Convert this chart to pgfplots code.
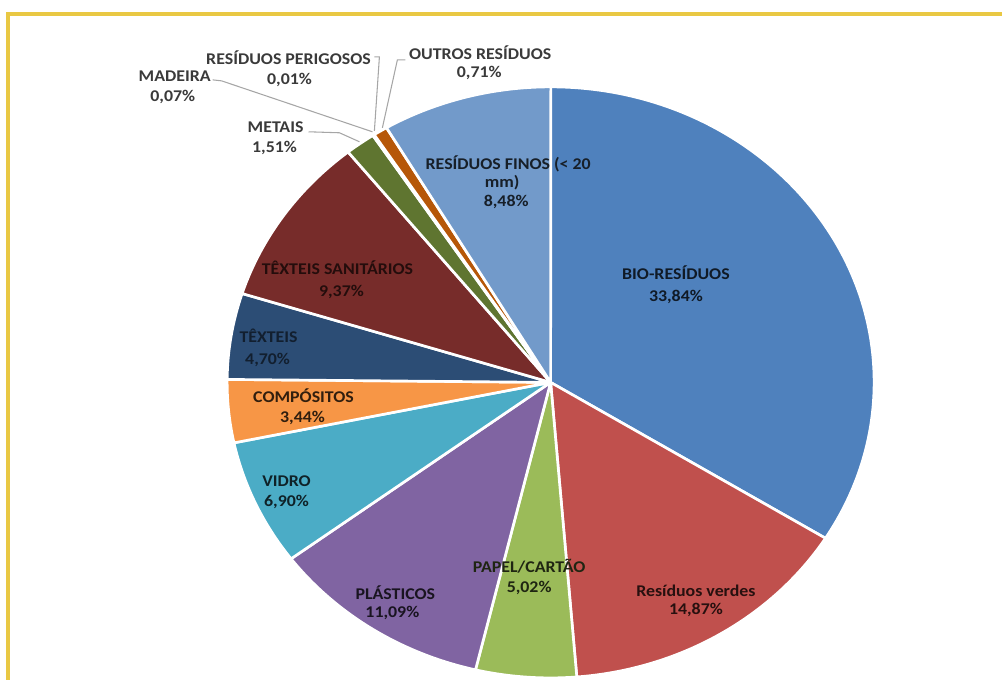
\documentclass[border=0pt]{standalone}
\usepackage{pgfplots}
\pgfplotsset{compat=1.18}
\usepackage{fontspec}
\setmainfont{Carlito}[FakeStretch=1.09]
\definecolor{cBio}{HTML}{4F81BD}
\definecolor{cVer}{HTML}{C0504D}
\definecolor{cPap}{HTML}{9BBB59}
\definecolor{cPla}{HTML}{8064A2}
\definecolor{cVid}{HTML}{4BACC6}
\definecolor{cCom}{HTML}{F79646}
\definecolor{cTex}{HTML}{2C4D75}
\definecolor{cTxs}{HTML}{772C2A}
\definecolor{cMet}{HTML}{5F7530}
\definecolor{cMad}{HTML}{4D3B62}
\definecolor{cPer}{HTML}{276A7C}
\definecolor{cOut}{HTML}{B65708}
\definecolor{cFin}{HTML}{729ACA}
\definecolor{frame}{HTML}{E9C843}
\definecolor{lead}{HTML}{A6A6A6}
\definecolor{outtxt}{HTML}{3A3A3A}
\begin{document}
\begin{tikzpicture}
\begin{axis}[x=0.75pt, y=0.75pt, xmin=0, xmax=1004, ymin=0, ymax=681,
  hide axis, clip=false]
\path (axis cs:0,0) rectangle (axis cs:1004,681);
% frame
\draw[frame, line width=2.4pt] (axis cs:8,0) -- (axis cs:8,667) -- (axis cs:1004,667);
% pie: centre, radii (x in axis units; 1 unit = 0.75pt)
\def\cx{551.5}\def\cy{298}\def\rx{324}\def\ry{296}
\gdef\cum{0}
\newcommand\slice[2]{%
  \pgfmathsetmacro\a{90-3.6*\cum}%
  \pgfmathsetmacro\newcum{\cum+#1}%
  \xdef\cum{\newcum}%
  \pgfmathsetmacro\b{90-3.6*\cum}%
  \pgfmathsetmacro\sx{\cx+\rx*cos(\a)}%
  \pgfmathsetmacro\sy{\cy+\ry*sin(\a)}%
  \edef\tmp{\noexpand\filldraw[fill=#2, draw=white, line width=2pt, line join=round]
    (axis cs:\cx,\cy) -- (axis cs:\sx,\sy)
    arc[start angle=\a, end angle=\b, x radius=243pt, y radius=222pt] -- cycle;}%
  \tmp}
\slice{33.84}{cBio}
\slice{14.87}{cVer}
\slice{5.02}{cPap}
\slice{11.09}{cPla}
\slice{6.90}{cVid}
\slice{3.44}{cCom}
\slice{4.70}{cTex}
\slice{9.37}{cTxs}
\slice{1.51}{cMet}
\slice{0.07}{cMad}
\slice{0.01}{cPer}
\slice{0.71}{cOut}
\slice{8.48}{cFin}
% leader lines
\draw[lead, line width=0.8pt] (axis cs:213,601) -- (axis cs:222,600) -- (axis cs:373,549);
\draw[lead, line width=0.8pt] (axis cs:375,624) -- (axis cs:380,624) -- (axis cs:375,550);
\draw[lead, line width=0.8pt] (axis cs:406,621) -- (axis cs:398,621) -- (axis cs:383,553);
\draw[lead, line width=0.8pt] (axis cs:309,549) -- (axis cs:340,548) -- (axis cs:360,539);
% labels
\newcommand\txt[4]{\node[anchor=base, inner sep=0pt, text=#4,
  font=\fontsize{12.3}{14}\selectfont\bfseries] at (axis cs:#1,#2) {#3};}
\txt{481}{621}{OUTROS RESÍDUOS}{outtxt}
\txt{480}{603}{0,71\%}{outtxt}
\txt{289}{616}{RESÍDUOS PERIGOSOS}{outtxt}
\txt{290}{596}{0,01\%}{outtxt}
\txt{175}{599}{MADEIRA}{outtxt}
\txt{173}{579}{0,07\%}{outtxt}
\txt{276}{548}{METAIS}{outtxt}
\txt{275}{528}{1,51\%}{outtxt}
\txt{509}{511}{RESÍDUOS FINOS (< 20}{black!80!cFin}
\txt{503}{493}{mm)}{black!80!cFin}
\txt{507}{474}{8,48\%}{black!80!cFin}
\txt{677}{401}{BIO-RESÍDUOS}{black!80!cBio}
\txt{677}{379}{33,84\%}{black!80!cBio}
\txt{697}{84}{Resíduos verdes}{black!80!cVer}
\txt{697}{66}{14,87\%}{black!80!cVer}
\txt{530}{108}{PAPEL/CARTÃO}{black!80!cPap}
\txt{530}{88}{5,02\%}{black!80!cPap}
\txt{396}{81}{PLÁSTICOS}{black!80!cPla}
\txt{393}{63}{11,09\%}{black!80!cPla}
\txt{287}{194}{VIDRO}{black!80!cVid}
\txt{287}{174}{6,90\%}{black!80!cVid}
\txt{304}{278}{COMPÓSITOS}{black!80!cCom}
\txt{303}{258}{3,44\%}{black!80!cCom}
\txt{269}{338}{TÊXTEIS}{black!60!cTex}
\txt{268}{316}{4,70\%}{black!60!cTex}
\txt{338}{406}{TÊXTEIS SANITÁRIOS}{black!70!cTxs}
\txt{342}{384}{9,37\%}{black!70!cTxs}
\end{axis}
\end{tikzpicture}
\end{document}
